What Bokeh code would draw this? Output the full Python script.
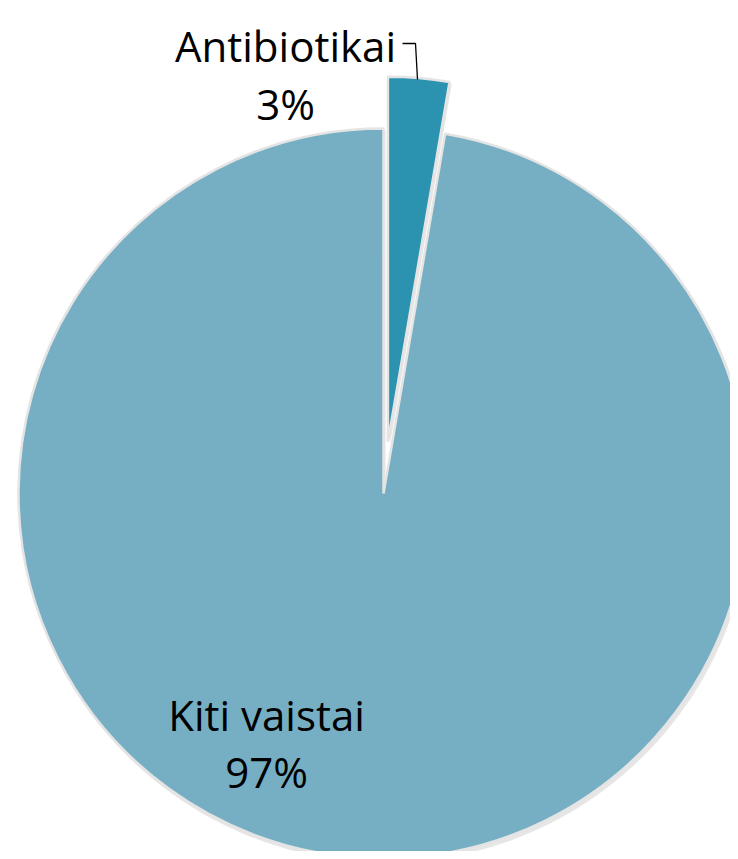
import math
from bokeh.plotting import figure
from bokeh.models import Range1d, ColumnDataSource
from bokeh.core.properties import value
from bokeh.embed import file_html
from bokeh.resources import INLINE

# ---- data ----
categories = ["Antibiotikai", "Kiti vaistai"]
shares = [2.7, 97.3]
pct_labels = ["3%", "97%"]
colors = ["#2B93AF", "#76AFC3"]
explode = [52, 0]

# ---- layout (pixel-like data space) ----
W, H = 730, 851
p = figure(width=W, height=H, output_backend="svg", toolbar_location=None,
           x_range=Range1d(0, W), y_range=Range1d(0, H),
           min_border=0, outline_line_color=None)
p.axis.visible = False
p.grid.visible = False
p.background_fill_color = "white"
p.border_fill_color = "white"

def Y(sy):
    return H - sy

cx, cy, R = 383.0, Y(493.0), 365.0

total = float(sum(shares))
starts, ends, xs, ys = [], [], [], []
cum = 0.0
for s, e in zip(shares, explode):
    a0 = cum / total * 2 * math.pi
    cum += s
    a1 = cum / total * 2 * math.pi
    mid = (a0 + a1) / 2
    starts.append(math.pi / 2 - a0)
    ends.append(math.pi / 2 - a1)
    xs.append(cx + e * math.sin(mid))
    ys.append(cy + e * math.cos(mid))

src = ColumnDataSource(dict(x=xs, y=ys, start=starts, end=ends, color=colors,
                            sx=[x + 2 for x in xs], sy=[y - 3 for y in ys]))

# soft shadow
p.wedge(x="sx", y="sy", radius=R + 1, start_angle="start", end_angle="end",
        direction="clock", source=src, fill_color="#9A9A9A", fill_alpha=0.25,
        line_color=None)
p.wedge(x="x", y="y", radius=R, start_angle="start", end_angle="end",
        direction="clock", source=src, fill_color="color",
        line_color="#E4E4E4", line_width=2.5)

font = value("Open Sans")
def label(x, sy, t):
    p.text(x=[x], y=[Y(sy)], text=[t], text_font=font,
           text_font_size="42px", text_align="center",
           text_baseline="alphabetic", text_color="black")

label(285, 45, categories[0])
label(285, 103, pct_labels[0])
label(266, 714, categories[1])
label(266, 771, pct_labels[1])

# leader line
p.line(x=[402, 415, 417], y=[Y(43), Y(43), Y(79)], line_color="black",
       line_width=1.3)

open("out.html", "w").write(file_html(p, INLINE))
